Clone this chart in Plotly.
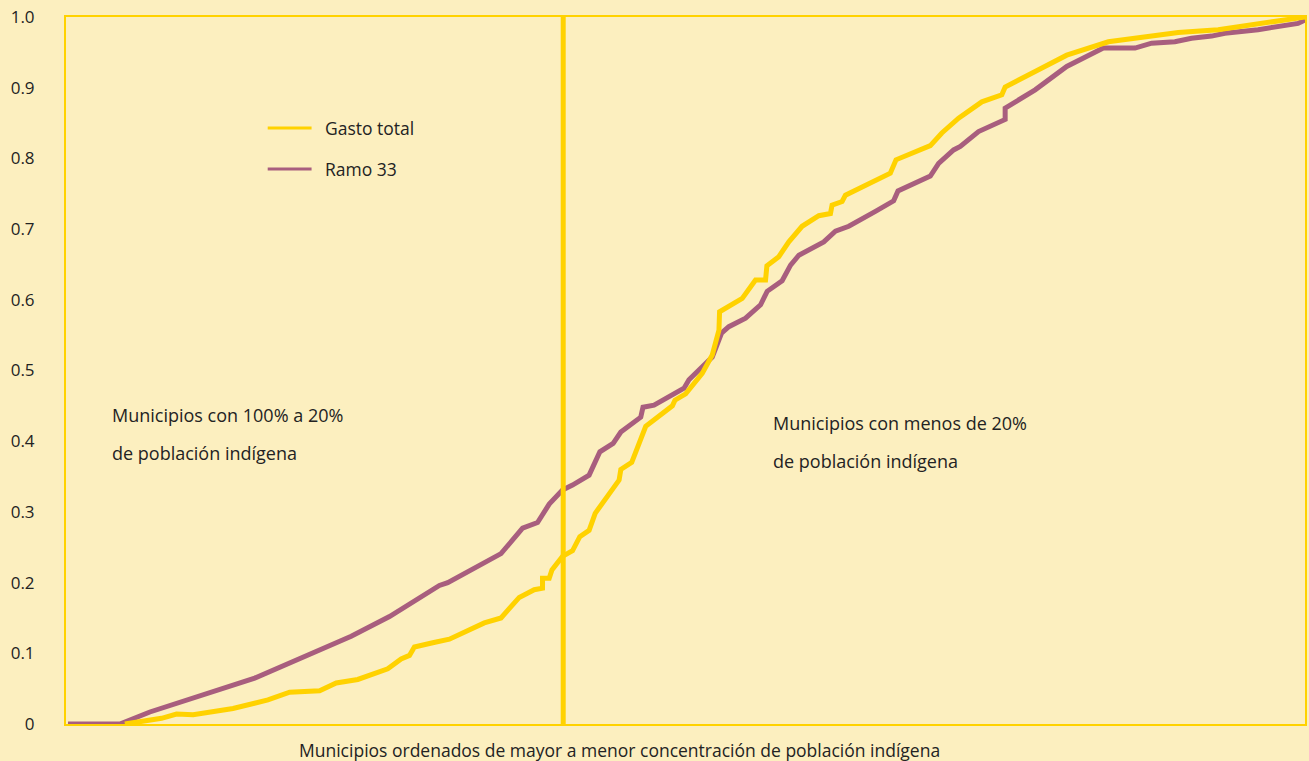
import plotly.graph_objects as go

# Share of municipalities (ordered from highest to lowest indigenous population)
gasto_x = [0.0475, 0.0771, 0.0892, 0.1026, 0.1348, 0.1630, 0.1805, 0.2047, 0.2181, 0.2355,
           0.2597, 0.2705, 0.2772, 0.2812, 0.2960, 0.3094, 0.3376, 0.3511, 0.3658, 0.3779,
           0.3846, 0.3846, 0.3900, 0.3922, 0.4007, 0.4088, 0.4147, 0.4222, 0.4271, 0.4464,
           0.4478, 0.4566, 0.4679, 0.4894, 0.4915, 0.5001, 0.5135, 0.5216, 0.5270, 0.5275,
           0.5458, 0.5565, 0.5646, 0.5657, 0.5753, 0.5834, 0.5941, 0.6076, 0.6170, 0.6183,
           0.6264, 0.6291, 0.6653, 0.6699, 0.6976, 0.7069, 0.7204, 0.7311, 0.7392, 0.7553,
           0.7580, 0.7822, 0.8077, 0.8413, 0.8654, 0.8977, 0.9299, 0.9460, 0.9783, 1.0]
gasto_y = [0.000, 0.008, 0.014, 0.013, 0.022, 0.034, 0.045, 0.047, 0.058, 0.063,
           0.078, 0.092, 0.097, 0.109, 0.115, 0.120, 0.143, 0.150, 0.179, 0.190,
           0.192, 0.206, 0.206, 0.218, 0.237, 0.245, 0.265, 0.274, 0.298, 0.345,
           0.360, 0.370, 0.421, 0.450, 0.458, 0.467, 0.496, 0.522, 0.557, 0.583,
           0.602, 0.628, 0.628, 0.648, 0.661, 0.682, 0.704, 0.719, 0.722, 0.734,
           0.739, 0.748, 0.779, 0.798, 0.818, 0.836, 0.857, 0.869, 0.880, 0.890,
           0.901, 0.923, 0.946, 0.965, 0.971, 0.978, 0.982, 0.986, 0.993, 1.000]

ramo_x = [0.0016, 0.0435, 0.0677, 0.1523, 0.2302, 0.2611, 0.3014, 0.3081, 0.3511, 0.3685,
          0.3806, 0.3900, 0.4007, 0.4088, 0.4222, 0.4309, 0.4416, 0.4478, 0.4639, 0.4657,
          0.4746, 0.4988, 0.5028, 0.5216, 0.5291, 0.5350, 0.5485, 0.5606, 0.5659, 0.5780,
          0.5848, 0.5915, 0.6116, 0.6210, 0.6318, 0.6438, 0.6533, 0.6680, 0.6715, 0.6976,
          0.7043, 0.7164, 0.7218, 0.7365, 0.7580, 0.7580, 0.7822, 0.8077, 0.8372, 0.8628,
          0.8762, 0.8950, 0.9084, 0.9246, 0.9353, 0.9621, 0.9783, 0.9944, 1.0]
ramo_y = [0.000, 0.000, 0.017, 0.065, 0.124, 0.152, 0.196, 0.200, 0.241, 0.277,
          0.285, 0.311, 0.331, 0.338, 0.352, 0.385, 0.397, 0.413, 0.434, 0.448,
          0.451, 0.475, 0.487, 0.519, 0.553, 0.562, 0.574, 0.593, 0.612, 0.627,
          0.649, 0.663, 0.682, 0.697, 0.704, 0.715, 0.725, 0.740, 0.754, 0.775,
          0.793, 0.812, 0.817, 0.838, 0.855, 0.871, 0.897, 0.930, 0.956, 0.956,
          0.963, 0.965, 0.970, 0.973, 0.977, 0.982, 0.986, 0.991, 0.996]

# Position of the 20% indigenous-population threshold
umbral_x = 0.4013

y_ticks = [0, 0.1, 0.2, 0.3, 0.4, 0.5, 0.6, 0.7, 0.8, 0.9, 1.0]
y_tick_text = ["0", "0.1", "0.2", "0.3", "0.4", "0.5", "0.6", "0.7", "0.8", "0.9", "1.0"]

series_names = ["Gasto total", "Ramo 33"]

AMARILLO = "#FFD200"
MORADO = "#A85E7E"
FONDO = "#FCEFBF"
TEXTO = "#232323"
FUENTE = "Open Sans"

fig = go.Figure()

fig.add_trace(go.Scatter(x=ramo_x, y=ramo_y, mode="lines", name=series_names[1],
                         line=dict(color=MORADO, width=5), showlegend=False))
fig.add_trace(go.Scatter(x=gasto_x, y=gasto_y, mode="lines", name=series_names[0],
                         line=dict(color=AMARILLO, width=5), showlegend=False))
fig.add_trace(go.Scatter(x=[umbral_x, umbral_x], y=[0, 1], mode="lines",
                         line=dict(color=AMARILLO, width=5), showlegend=False,
                         hoverinfo="skip"))

# Legend drawn as short line samples with labels
legend_items = [(series_names[0], AMARILLO, 0.843), (series_names[1], MORADO, 0.785)]
for name, color, yy in legend_items:
    fig.add_shape(type="line", xref="x", yref="y", x0=0.1628, x1=0.1982, y0=yy, y1=yy,
                  line=dict(color=color, width=3))
    fig.add_annotation(x=0.2071, y=yy, xref="x", yref="y", text=name, showarrow=False,
                       xanchor="left", yanchor="middle",
                       font=dict(family=FUENTE, size=17.5, color=TEXTO))

text_blocks = [
    ("Municipios con 100% a 20%", 0.0355, 0.437),
    ("de población indígena", 0.0355, 0.383),
    ("Municipios con menos de 20%", 0.569, 0.426),
    ("de población indígena", 0.569, 0.372),
]
for txt, xx, yy in text_blocks:
    fig.add_annotation(x=xx, y=yy, xref="x", yref="y", text=txt, showarrow=False,
                       xanchor="left", yanchor="middle",
                       font=dict(family=FUENTE, size=18, color=TEXTO))

fig.add_annotation(x=0.447, y=-0.037, xref="x", yref="paper",
                   text="Municipios ordenados de mayor a menor concentración de población indígena",
                   showarrow=False, xanchor="center", yanchor="middle",
                   font=dict(family=FUENTE, size=17.5, color=TEXTO))

fig.update_layout(
    width=1309, height=761,
    margin=dict(l=66, r=2, t=17, b=37),
    paper_bgcolor=FONDO, plot_bgcolor=FONDO,
    font=dict(family=FUENTE, color=TEXTO, size=17),
    xaxis=dict(range=[0, 1], showgrid=False, zeroline=False, showticklabels=False,
               showline=True, mirror=True, linecolor=AMARILLO, linewidth=2, fixedrange=True),
    yaxis=dict(range=[0, 1], showgrid=False, zeroline=False, tickvals=y_ticks,
               ticktext=y_tick_text, ticks="", ticklabelstandoff=26,
               showline=True, mirror=True, linecolor=AMARILLO, linewidth=2,
               tickfont=dict(family=FUENTE, size=17, color=TEXTO), fixedrange=True),
    showlegend=False,
)

fig.write_html("out.html")
